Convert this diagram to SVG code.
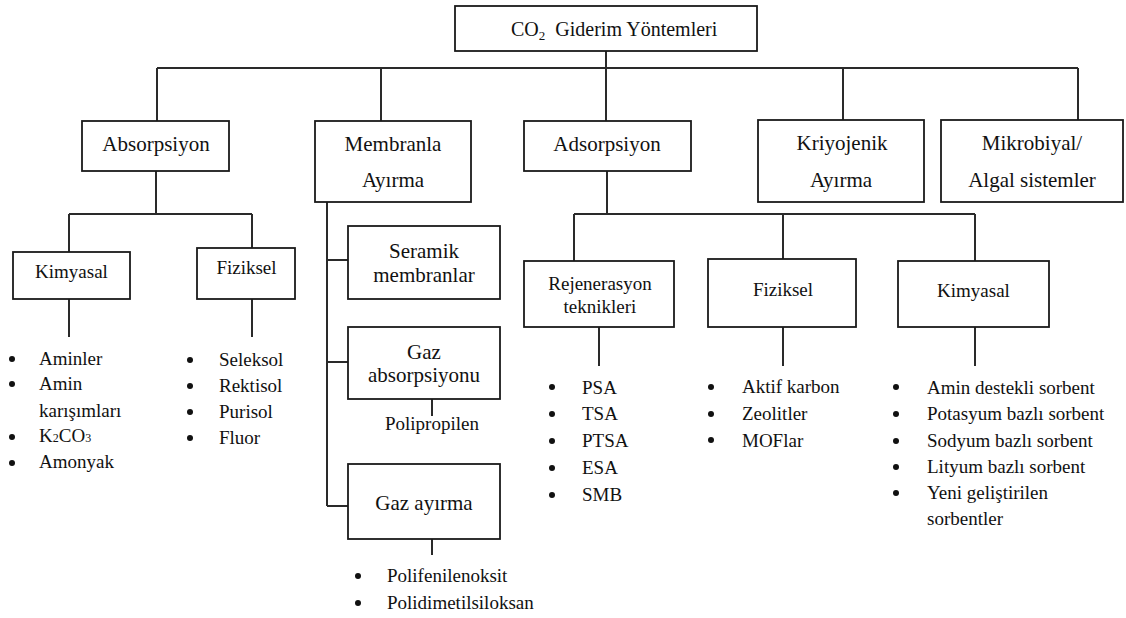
<svg xmlns="http://www.w3.org/2000/svg" width="1126" height="618" viewBox="0 0 1126 618">
<style>
.box{fill:#fff;stroke:#1a1a1a;stroke-width:1.8}
.ln{stroke:#2a2a2a;stroke-width:2;fill:none}
text{font-family:'Liberation Serif','DejaVu Serif','Times New Roman',serif;fill:#111}
.t20{font-size:20px}
.t21{font-size:21px;text-anchor:middle}
.t19{font-size:19px;text-anchor:middle}
.li{font-size:19px}
.b{fill:#111}
</style>
<rect width="1126" height="618" fill="#fff"/>
<g id="connectors" class="ln">
<path d="M606 51V121M157 68H1078M157 68V121M381 68V121M843 68V120M1078 68V120"/>
<path d="M156 171V214M69 214H252M69 214V252M252 214V248M69 299V337M252 299V337"/>
<path d="M327 202V506M327 260H348M327 362H348M327 506H348M432 399V416M432 539V555"/>
<path d="M607 171V214M574 214H975M574 214V261M783 214V259M975 214V261M599 327V366M783 327V366M975 327V366"/>
</g>
<g id="root">
<rect class="box" x="455" y="6" width="302" height="45"/>
<text class="t20" x="511" y="36">CO<tspan font-size="13" dy="4">2</tspan><tspan dy="-4" xml:space="preserve">  Giderim Yöntemleri</tspan></text>
</g>
<g id="absorpsiyon">
<rect class="box" x="82" y="121" width="147" height="50"/>
<text class="t21" x="156" y="151">Absorpsiyon</text>
</g>
<g id="membranla">
<rect class="box" x="315" y="121" width="156" height="81"/>
<text class="t21" x="393" y="151">Membranla</text>
<text class="t21" x="393" y="187">Ayırma</text>
</g>
<g id="adsorpsiyon">
<rect class="box" x="524" y="121" width="167" height="50"/>
<text class="t21" x="607" y="151">Adsorpsiyon</text>
</g>
<g id="kriyojenik">
<rect class="box" x="758" y="120" width="166" height="82"/>
<text class="t21" x="842" y="150">Kriyojenik</text>
<text class="t21" x="841" y="187">Ayırma</text>
</g>
<g id="mikrobiyal">
<rect class="box" x="941" y="120" width="182" height="82"/>
<text class="t21" x="1032" y="150">Mikrobiyal/</text>
<text class="t21" x="1032" y="187">Algal sistemler</text>
</g>
<g id="abs-kimyasal">
<rect class="box" x="13" y="252" width="117" height="47"/>
<text class="t19" x="71.5" y="278">Kimyasal</text>
<g class="li">
<circle class="b" cx="12" cy="359" r="3"/><text x="39" y="365">Aminler</text>
<circle class="b" cx="12" cy="384" r="3"/><text x="39" y="390">Amin</text>
<text x="39" y="417">karışımları</text>
<circle class="b" cx="12" cy="437" r="3"/><text x="39" y="442">K<tspan font-size="12">2</tspan>CO<tspan font-size="12">3</tspan></text>
<circle class="b" cx="12" cy="463" r="3"/><text x="39" y="468">Amonyak</text>
</g>
</g>
<g id="abs-fiziksel">
<rect class="box" x="197" y="248" width="98" height="51"/>
<text class="t19" x="246.5" y="274">Fiziksel</text>
<g class="li">
<circle class="b" cx="190" cy="360" r="3"/><text x="219" y="366">Seleksol</text>
<circle class="b" cx="190" cy="386" r="3"/><text x="219" y="392">Rektisol</text>
<circle class="b" cx="190" cy="412" r="3"/><text x="219" y="418">Purisol</text>
<circle class="b" cx="190" cy="438" r="3"/><text x="219" y="444">Fluor</text>
</g>
</g>
<g id="seramik">
<rect class="box" x="348" y="226" width="152" height="73"/>
<text class="t21" x="424" y="258">Seramik</text>
<text class="t21" x="424" y="282">membranlar</text>
</g>
<g id="gaz-absorpsiyonu">
<rect class="box" x="348" y="327" width="152" height="72"/>
<text class="t21" x="424" y="359">Gaz</text>
<text class="t21" x="424" y="382">absorpsiyonu</text>
<text class="li" x="385" y="430">Polipropilen</text>
</g>
<g id="gaz-ayirma">
<rect class="box" x="348" y="464" width="152" height="75"/>
<text class="t21" x="424" y="510">Gaz ayırma</text>
<g class="li">
<circle class="b" cx="358" cy="576" r="3"/><text x="387" y="582">Polifenilenoksit</text>
<circle class="b" cx="358" cy="603" r="3"/><text x="387" y="609">Polidimetilsiloksan</text>
</g>
</g>
<g id="rejenerasyon">
<rect class="box" x="524" y="261" width="150" height="66"/>
<text class="t19" x="600" y="290">Rejenerasyon</text>
<text class="t19" x="600" y="313">teknikleri</text>
<g class="li">
<circle class="b" cx="552" cy="387" r="3"/><text x="582" y="394">PSA</text>
<circle class="b" cx="552" cy="414" r="3"/><text x="582" y="420">TSA</text>
<circle class="b" cx="552" cy="441" r="3"/><text x="582" y="447">PTSA</text>
<circle class="b" cx="552" cy="468" r="3"/><text x="582" y="474">ESA</text>
<circle class="b" cx="552" cy="495" r="3"/><text x="582" y="501">SMB</text>
</g>
</g>
<g id="ads-fiziksel">
<rect class="box" x="708" y="259" width="148" height="68"/>
<text class="t19" x="783" y="296">Fiziksel</text>
<g class="li">
<circle class="b" cx="711" cy="387" r="3"/><text x="742" y="393">Aktif karbon</text>
<circle class="b" cx="711" cy="414" r="3"/><text x="742" y="420">Zeolitler</text>
<circle class="b" cx="711" cy="440" r="3"/><text x="742" y="447">MOFlar</text>
</g>
</g>
<g id="ads-kimyasal">
<rect class="box" x="898" y="261" width="151" height="66"/>
<text class="t19" x="973.5" y="297">Kimyasal</text>
<g class="li">
<circle class="b" cx="896" cy="387" r="3"/><text x="927" y="394">Amin destekli sorbent</text>
<circle class="b" cx="896" cy="414" r="3"/><text x="927" y="420">Potasyum bazlı sorbent</text>
<circle class="b" cx="896" cy="441" r="3"/><text x="927" y="447">Sodyum bazlı sorbent</text>
<circle class="b" cx="896" cy="467" r="3"/><text x="927" y="473">Lityum bazlı sorbent</text>
<circle class="b" cx="896" cy="493" r="3"/><text x="927" y="499">Yeni geliştirilen</text>
<text x="927" y="525">sorbentler</text>
</g>
</g>
</svg>
